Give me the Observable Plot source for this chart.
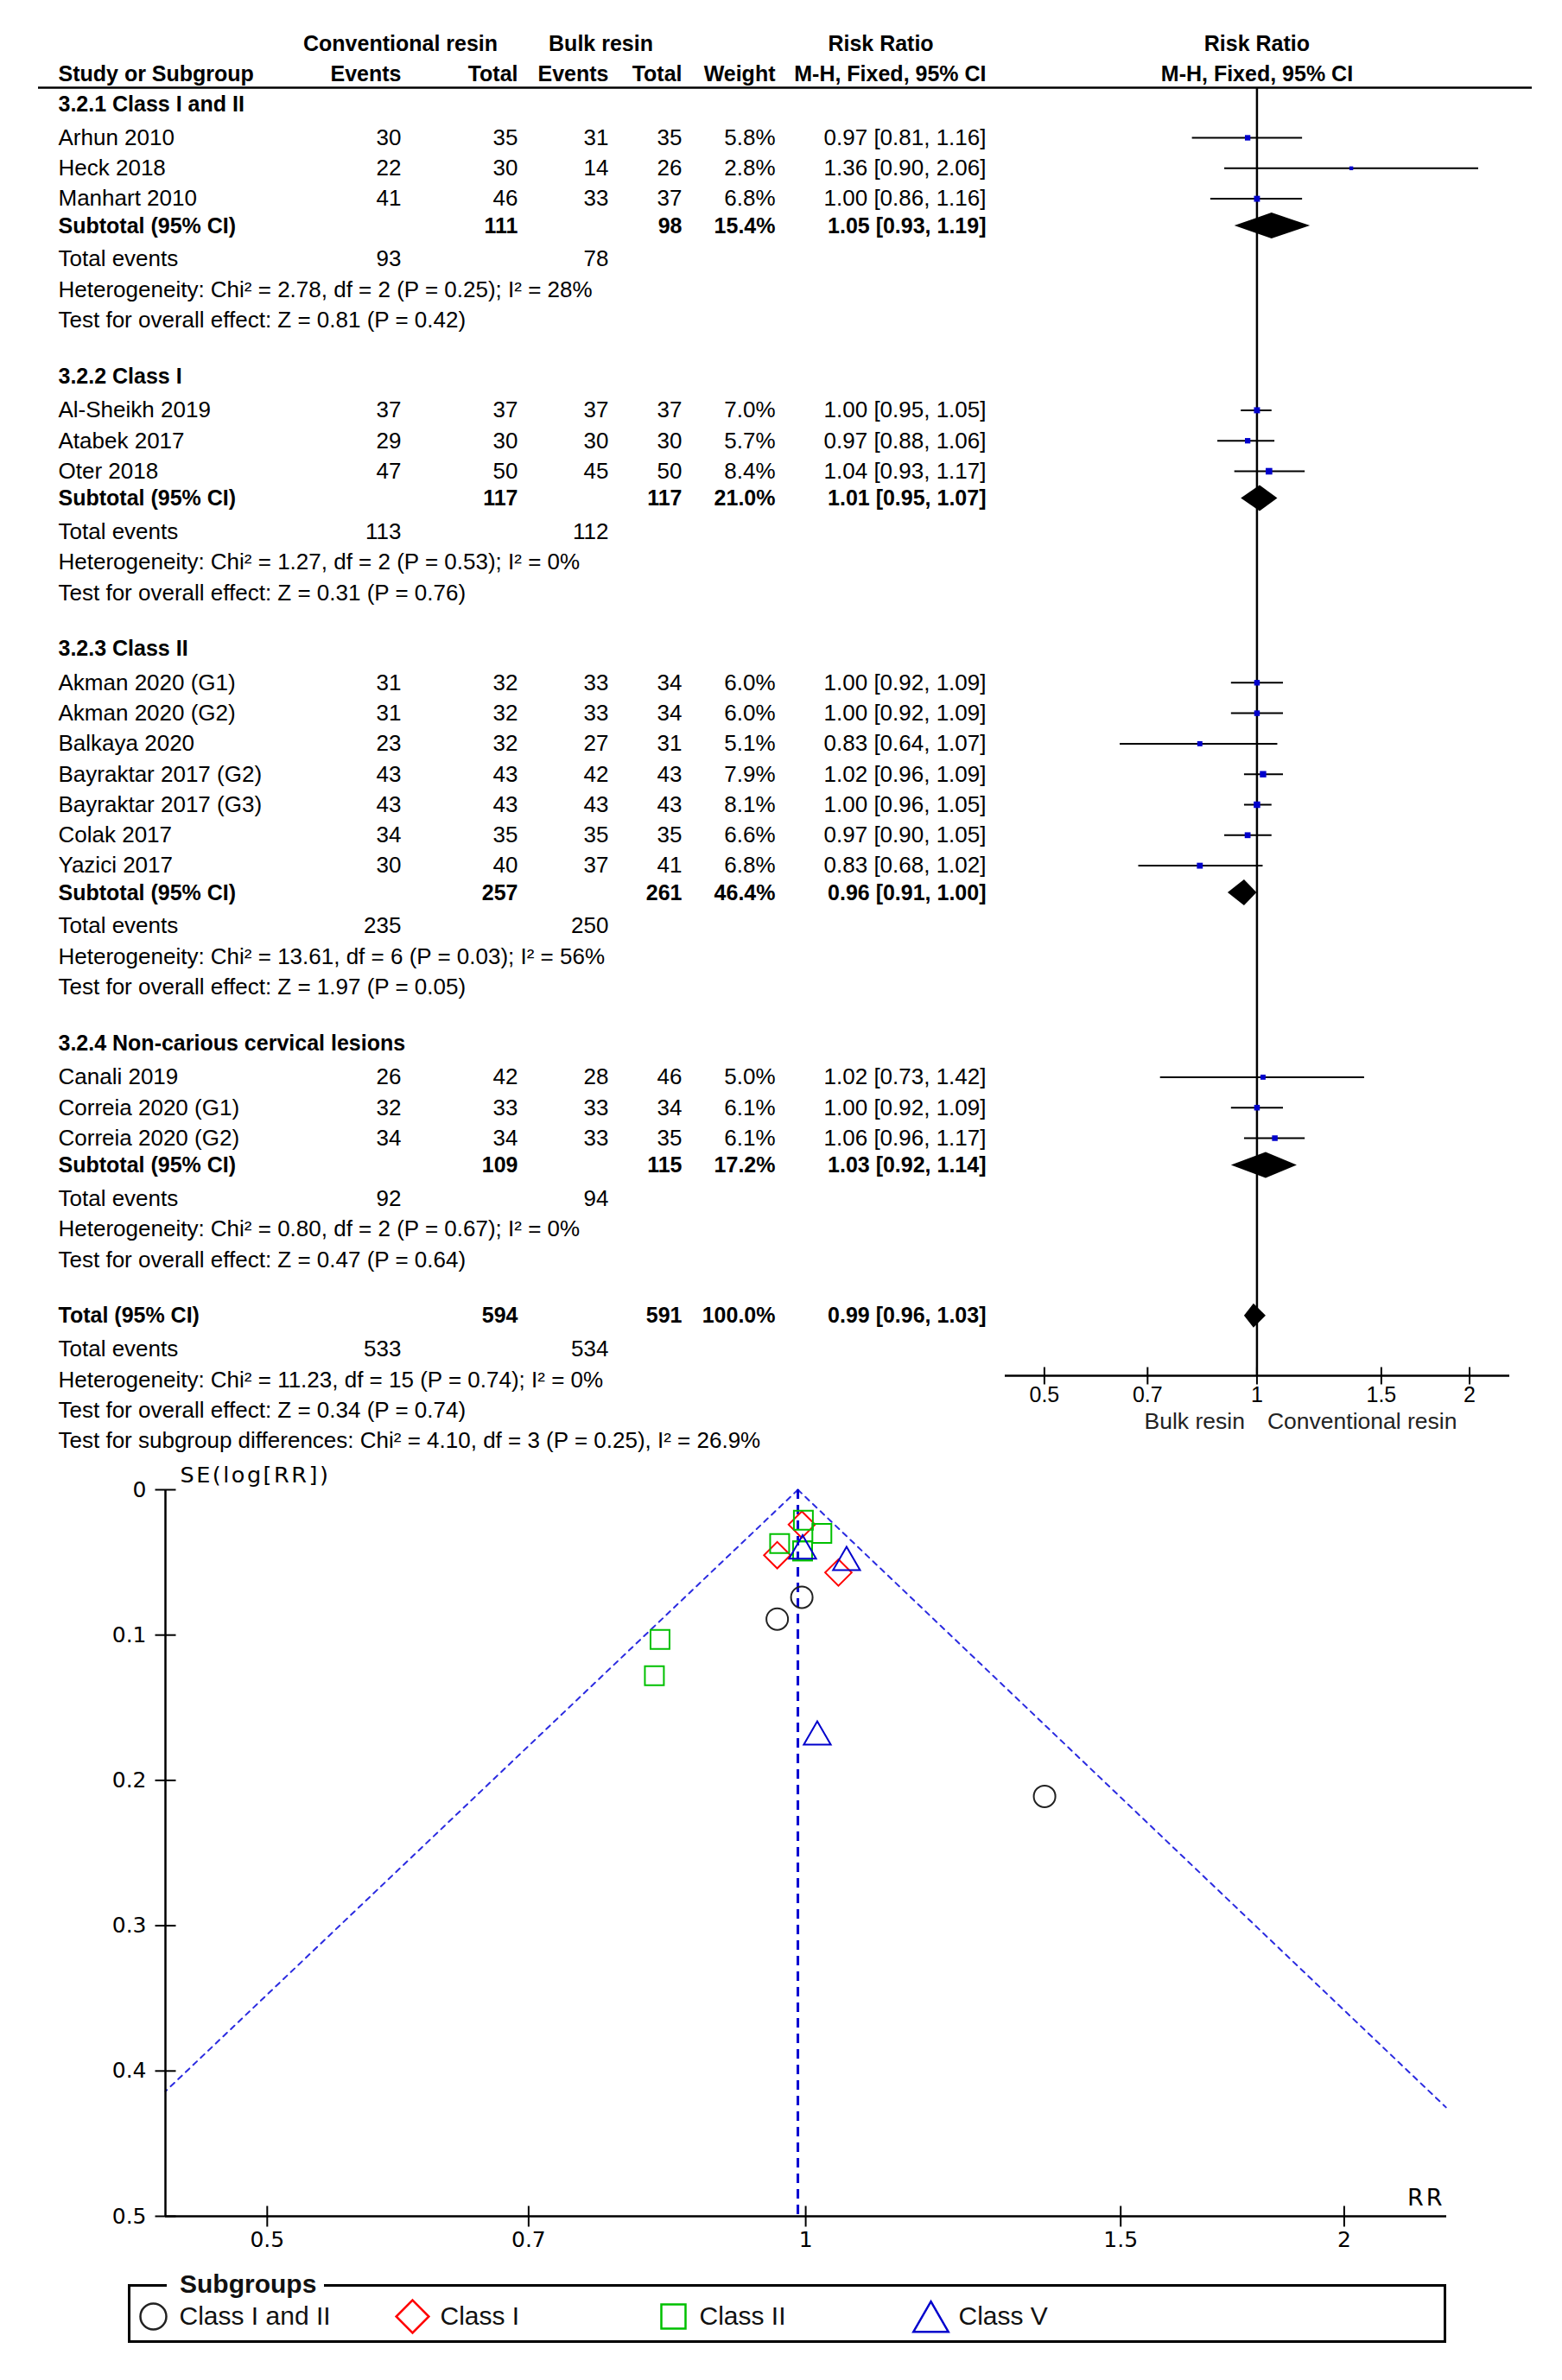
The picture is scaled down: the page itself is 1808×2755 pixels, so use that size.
<!DOCTYPE html>
<html>
<head>
<meta charset="utf-8">
<script src="https://cdn.jsdelivr.net/npm/d3@7"></script>
<script src="https://cdn.jsdelivr.net/npm/@observablehq/plot@0.6"></script>
<style>
html, body { margin: 0; padding: 0; background: #fff; }
#root { position: relative; width: 1808px; height: 2755px; overflow: hidden; background: #fff; }
.layer { position: absolute; left: 0; }
.layer svg { display: block; }
#legendBox { position: absolute; box-sizing: border-box; border: 3px solid #000; }
#legendTitle { position: absolute; background: #fff; font: bold 30px "Liberation Sans", Arial, sans-serif; line-height: 36px; color: #111; padding: 0 9px 0 15px; }
</style>
</head>
<body>
<div id="root"></div>
<script>
// ---------------- DATA ----------------
const groupNames = ["3.2.1 Class I and II", "3.2.2 Class I", "3.2.3 Class II", "3.2.4 Non-carious cervical lesions"];
const studyNames = ["Arhun 2010", "Heck 2018", "Manhart 2010",
  "Al-Sheikh 2019", "Atabek 2017", "Oter 2018",
  "Akman 2020 (G1)", "Akman 2020 (G2)", "Balkaya 2020", "Bayraktar 2017 (G2)", "Bayraktar 2017 (G3)", "Colak 2017", "Yazici 2017",
  "Canali 2019", "Correia 2020 (G1)", "Correia 2020 (G2)"];
const studyGroup = [0,0,0, 1,1,1, 2,2,2,2,2,2,2, 3,3,3];
const convEvents = [30,22,41, 37,29,47, 31,31,23,43,43,34,30, 26,32,34];
const convTotal  = [35,30,46, 37,30,50, 32,32,32,43,43,35,40, 42,33,34];
const bulkEvents = [31,14,33, 37,30,45, 33,33,27,42,43,35,37, 28,33,33];
const bulkTotal  = [35,26,37, 37,30,50, 34,34,31,43,43,35,41, 46,34,35];
const weights    = [5.8,2.8,6.8, 7.0,5.7,8.4, 6.0,6.0,5.1,7.9,8.1,6.6,6.8, 5.0,6.1,6.1];
const riskRatio  = [0.97,1.36,1.00, 1.00,0.97,1.04, 1.00,1.00,0.83,1.02,1.00,0.97,0.83, 1.02,1.00,1.06];
const rrLow      = [0.81,0.90,0.86, 0.95,0.88,0.93, 0.92,0.92,0.64,0.96,0.96,0.90,0.68, 0.73,0.92,0.96];
const rrHigh     = [1.16,2.06,1.16, 1.05,1.06,1.17, 1.09,1.09,1.07,1.09,1.05,1.05,1.02, 1.42,1.09,1.17];

const subConvTotal   = [111,117,257,109];
const subBulkTotal   = [98,117,261,115];
const subWeight      = [15.4,21.0,46.4,17.2];
const subRR          = [1.05,1.01,0.96,1.03];
const subLow         = [0.93,0.95,0.91,0.92];
const subHigh        = [1.19,1.07,1.00,1.14];
const subConvEvents  = [93,113,235,92];
const subBulkEvents  = [78,112,250,94];
const subHeterogeneity = ["Chi² = 2.78, df = 2 (P = 0.25); I² = 28%", "Chi² = 1.27, df = 2 (P = 0.53); I² = 0%",
  "Chi² = 13.61, df = 6 (P = 0.03); I² = 56%", "Chi² = 0.80, df = 2 (P = 0.67); I² = 0%"];
const subEffect = ["Z = 0.81 (P = 0.42)", "Z = 0.31 (P = 0.76)", "Z = 1.97 (P = 0.05)", "Z = 0.47 (P = 0.64)"];

const totalConvTotal = 594, totalBulkTotal = 591, totalWeight = 100.0;
const totalRR = 0.99, totalLow = 0.96, totalHigh = 1.03;
const totalConvEvents = 533, totalBulkEvents = 534;
const totalHeterogeneity = "Chi² = 11.23, df = 15 (P = 0.74); I² = 0%";
const totalEffect = "Z = 0.34 (P = 0.74)";
const subgroupDifferences = "Chi² = 4.10, df = 3 (P = 0.25), I² = 26.9%";

const forestTicks = [0.5, 0.7, 1, 1.5, 2];
const forestDomain = [0.44, 2.28];

const funnelGroups = ["Class I and II", "Class I", "Class II", "Class V"];
const funnelColors = ["#222222", "#ff0000", "#00c000", "#0000cc"];
const funnelSymbols = ["circle", "diamond2", "square", "triangle"];
const funnelGroup = [0,0,0, 1,1,1, 2,2,2,2,2,2,2, 3,3,3];
const funnelRR = [0.964,1.36,0.995, 0.995,0.964,1.043, 0.996,0.996,0.823,1.021,0.997,0.967,0.829, 1.015,0.996,1.054];
const funnelSE = [0.089,0.211,0.074, 0.024,0.045,0.057, 0.042,0.042,0.128,0.030,0.021,0.037,0.103, 0.170,0.042,0.050];
const funnelPooled = 0.99;
const funnelLimitLeft  = [{rr: 0.99, se: 0}, {rr: 0.4386, se: 0.414}];
const funnelLimitRight = [{rr: 0.99, se: 0}, {rr: 2.28, se: 0.425}];
const funnelDomainX = [0.4386, 2.282];
const funnelDomainY = [0, 0.5];
const funnelYTicks = [0, 0.1, 0.2, 0.3, 0.4, 0.5];
const funnelXTicks = [0.5, 0.7, 1, 1.5, 2];

// ---------------- LAYOUT ----------------
const FONT = '"Liberation Sans", Arial, Helvetica, sans-serif';
const DJV = '"DejaVu Sans", Verdana, sans-serif';
const L = {
  W: 1808,
  tableH: 1700,
  hdr1: 50, hdr2: 85, hdrRule: 101, ruleX1: 44, ruleX2: 1773,
  firstGroup: 120, headToStudy: 39, studyStep: 35.3, studyToSub: 31.5, subToEvents: 38.5,
  eventsToHet: 35.5, hetToTest: 35.3, testToNext: 65,
  cols: {name: 67, ce: 464, ct: 599, be: 704, bt: 789, w: 897, ci: 1141},
  hdr1Centers: [463, 695, 1019],
  fsReg: 26, fsBold: 25,
  forestRange: [1163, 1747], forestAxisY: 1592, forestTickLabelY: 1614, forestSideLabelY: 1645,
  diamondHalf: 15,
  funnelTop: 1680, funnelH: 960, funnelLeft: 191, funnelRight: 1674, funnelMT: 44, funnelMB: 75,
  legendBox: {left: 148, top: 2644, width: 1526, height: 68},
  legendTitle: {left: 193, top: 2626},
  legendTop: 2618, legendH: 120, legendY: 63,
  legendSymX: [177, 477, 779, 1077], legendTextX: [207, 509, 809, 1109],
  legendR: [15, 17, 15.8, 15], legendDy: [0, 0, 0, 6],
  funnelR: {circle: 12.5, diamond2: 13.8, square: 12.4, triangle: 11.6}
};

// ---------------- BUILD TABLE ROWS ----------------
const fmt2 = d3.format(".2f");
const ciText = (r, lo, hi) => `${fmt2(r)} [${fmt2(lo)}, ${fmt2(hi)}]`;
const cells = [];
function cell(col, y, text, bold, anchor) {
  cells.push({x: L.cols[col], y, text: String(text), bold: !!bold, anchor: anchor || (col === "name" ? "start" : "end")});
}
// header
["Conventional resin", "Bulk resin", "Risk Ratio"].forEach((t, i) =>
  cells.push({x: L.hdr1Centers[i], y: L.hdr1, text: t, bold: true, anchor: "middle"}));
cell("name", L.hdr2, "Study or Subgroup", true);
cell("ce", L.hdr2, "Events", true);
cell("ct", L.hdr2, "Total", true);
cell("be", L.hdr2, "Events", true);
cell("bt", L.hdr2, "Total", true);
cell("w", L.hdr2, "Weight", true);
cell("ci", L.hdr2, "M-H, Fixed, 95% CI", true);

const forestStudies = [];
const diamondPts = [];
function addDiamond(id, y, est, lo, hi, half) {
  diamondPts.push({id, y: y - half, x1: est, x2: est});
  diamondPts.push({id, y: y, x1: lo, x2: hi});
  diamondPts.push({id, y: y + half, x1: est, x2: est});
}

let y = L.firstGroup;
groupNames.forEach((g, gi) => {
  cell("name", y, g, true);
  y += L.headToStudy;
  let first = true;
  studyNames.forEach((name, i) => {
    if (studyGroup[i] !== gi) return;
    if (!first) y += L.studyStep;
    first = false;
    cell("name", y, name);
    cell("ce", y, convEvents[i]);
    cell("ct", y, convTotal[i]);
    cell("be", y, bulkEvents[i]);
    cell("bt", y, bulkTotal[i]);
    cell("w", y, weights[i].toFixed(1) + "%");
    cell("ci", y, ciText(riskRatio[i], rrLow[i], rrHigh[i]));
    forestStudies.push({y, rr: riskRatio[i], lo: rrLow[i], hi: rrHigh[i], w: weights[i]});
  });
  y += L.studyToSub;
  cell("name", y, "Subtotal (95% CI)", true);
  cell("ct", y, subConvTotal[gi], true);
  cell("bt", y, subBulkTotal[gi], true);
  cell("w", y, subWeight[gi].toFixed(1) + "%", true);
  cell("ci", y, ciText(subRR[gi], subLow[gi], subHigh[gi]), true);
  addDiamond("g" + gi, y, subRR[gi], subLow[gi], subHigh[gi], L.diamondHalf);
  y += L.subToEvents;
  cell("name", y, "Total events");
  cell("ce", y, subConvEvents[gi]);
  cell("be", y, subBulkEvents[gi]);
  y += L.eventsToHet;
  cell("name", y, "Heterogeneity: " + subHeterogeneity[gi]);
  y += L.hetToTest;
  cell("name", y, "Test for overall effect: " + subEffect[gi]);
  y += L.testToNext;
});
cell("name", y, "Total (95% CI)", true);
cell("ct", y, totalConvTotal, true);
cell("bt", y, totalBulkTotal, true);
cell("w", y, totalWeight.toFixed(1) + "%", true);
cell("ci", y, ciText(totalRR, totalLow, totalHigh), true);
addDiamond("total", y, totalRR, totalLow, totalHigh, L.diamondHalf - 1);
y += L.subToEvents;
cell("name", y, "Total events");
cell("ce", y, totalConvEvents);
cell("be", y, totalBulkEvents);
y += L.eventsToHet;
cell("name", y, "Heterogeneity: " + totalHeterogeneity);
y += L.hetToTest;
cell("name", y, "Test for overall effect: " + totalEffect);
y += L.hetToTest;
cell("name", y, "Test for subgroup differences: " + subgroupDifferences);

// ---------------- PLOTS ----------------
const root = document.getElementById("root");
function layer(node, top) {
  const d = document.createElement("div");
  d.className = "layer";
  d.style.top = top + "px";
  d.appendChild(node);
  root.appendChild(d);
  return d;
}
const textMarks = (data) => {
  const out = [];
  for (const anchor of ["start", "middle", "end"]) for (const bold of [false, true]) {
    const sub = data.filter(d => d.anchor === anchor && d.bold === bold);
    if (!sub.length) continue;
    out.push(Plot.text(sub, {x: "x", y: "y", text: "text", textAnchor: anchor,
      fontWeight: bold ? "bold" : "normal", fontSize: bold ? L.fsBold : L.fsReg, fontFamily: FONT, fill: "#000"}));
  }
  return out;
};

// Table
const plotA = Plot.plot({
  width: L.W, height: L.tableH, margin: 0,
  x: {type: "identity", axis: null}, y: {type: "identity", axis: null},
  style: {background: "transparent", fontFamily: FONT},
  marks: [
    Plot.ruleY([L.hdrRule], {x1: L.ruleX1, x2: L.ruleX2, stroke: "#000", strokeWidth: 2.5}),
    ...textMarks(cells)
  ]
});
layer(plotA, 0);

// Forest graphic
const hTick = {draw(ctx, size) { const r = Math.sqrt(size / Math.PI); ctx.moveTo(-r, 0); ctx.lineTo(r, 0); }};
const vTick = {draw(ctx, size) { const r = Math.sqrt(size / Math.PI); ctx.moveTo(0, -r); ctx.lineTo(0, r); }};

const plotB = Plot.plot({
  width: L.W, height: L.tableH, margin: 0,
  x: {type: "log", domain: forestDomain, range: L.forestRange, axis: null},
  y: {type: "identity", axis: null},
  r: {type: "sqrt", domain: [0, 8.4], range: [0, 4.3]},
  style: {background: "transparent", fontFamily: FONT},
  marks: [
    Plot.ruleX([1], {y1: L.hdrRule, y2: L.forestAxisY, stroke: "#000", strokeWidth: 2.5}),
    Plot.ruleY(forestStudies, {y: "y", x1: "lo", x2: "hi", stroke: "#000", strokeWidth: 2}),
    Plot.dot(forestStudies, {x: "rr", y: "y", r: "w", symbol: "square", fill: "#0000cc", stroke: "none"}),
    Plot.areaX(diamondPts, {y: "y", x1: "x1", x2: "x2", z: "id", fill: "#000", curve: "linear"}),
    Plot.ruleY([L.forestAxisY], {x1: forestDomain[0], x2: forestDomain[1], stroke: "#000", strokeWidth: 2.5}),
    Plot.dot(forestTicks, {x: d => d, y: L.forestAxisY, symbol: vTick, r: 10, stroke: "#000", fill: "none", strokeWidth: 2}),
    Plot.text(forestTicks, {x: d => d, y: L.forestTickLabelY, text: d => String(d), fontSize: 25, fontFamily: FONT, fill: "#000"}),
    Plot.text(["Bulk resin"], {x: 1, y: L.forestSideLabelY, text: d => d, dx: -14, textAnchor: "end", fontSize: 26.5, fontFamily: FONT, fill: "#222"}),
    Plot.text(["Conventional resin"], {x: 1, y: L.forestSideLabelY, text: d => d, dx: 12, textAnchor: "start", fontSize: 26.5, fontFamily: FONT, fill: "#222"}),
    Plot.text(["Risk Ratio"], {x: 1, y: L.hdr1, text: d => d, fontWeight: "bold", fontSize: L.fsBold, fontFamily: FONT, fill: "#000"}),
    Plot.text(["M-H, Fixed, 95% CI"], {x: 1, y: L.hdr2, text: d => d, fontWeight: "bold", fontSize: L.fsBold, fontFamily: FONT, fill: "#000"})
  ]
});
layer(plotB, 0);

// Funnel plot
const funnelPts = funnelRR.map((rr, i) => ({rr, se: funnelSE[i], g: funnelGroup[i]}));
const plotC = Plot.plot({
  width: L.W, height: L.funnelH,
  marginLeft: L.funnelLeft, marginRight: L.W - L.funnelRight, marginTop: L.funnelMT, marginBottom: L.funnelMB,
  x: {type: "log", domain: funnelDomainX, axis: null},
  y: {domain: funnelDomainY, reverse: true, axis: null},
  style: {background: "transparent", fontFamily: DJV},
  marks: [
    Plot.line(funnelLimitLeft, {x: "rr", y: "se", stroke: "#2b2be0", strokeWidth: 2, strokeDasharray: "6,6"}),
    Plot.line(funnelLimitRight, {x: "rr", y: "se", stroke: "#2b2be0", strokeWidth: 2, strokeDasharray: "6,6"}),
    Plot.ruleX([funnelPooled], {y1: funnelDomainY[0], y2: funnelDomainY[1], stroke: "#0000d0", strokeWidth: 3, strokeDasharray: "11,7"}),
    Plot.ruleX([funnelDomainX[0]], {y1: funnelDomainY[0], y2: funnelDomainY[1], stroke: "#000", strokeWidth: 2.5}),
    Plot.ruleY([funnelDomainY[1]], {x1: funnelDomainX[0], x2: funnelDomainX[1], stroke: "#000", strokeWidth: 2.5}),
    Plot.dot(funnelYTicks, {x: funnelDomainX[0], y: d => d, symbol: hTick, r: 12, stroke: "#000", fill: "none", strokeWidth: 2}),
    Plot.dot(funnelXTicks, {x: d => d, y: funnelDomainY[1], symbol: vTick, r: 12, stroke: "#000", fill: "none", strokeWidth: 2}),
    Plot.text(funnelYTicks, {x: funnelDomainX[0], y: d => d, text: d => String(d), dx: -22, textAnchor: "end", fontSize: 25, fontFamily: DJV, fill: "#000"}),
    Plot.text(funnelXTicks, {x: d => d, y: funnelDomainY[1], text: d => String(d), dy: 27, fontSize: 25, fontFamily: DJV, fill: "#000"}),
    Plot.text(["SE(log[RR])"], {x: funnelDomainX[0], y: funnelDomainY[0], text: d => d, dx: 17, dy: -17, textAnchor: "start", fontSize: 25.5, fontFamily: DJV, fill: "#000"}),
    Plot.text(["RR"], {x: funnelDomainX[1], y: funnelDomainY[1], text: d => d, dx: -2, dy: -21, textAnchor: "end", fontSize: 27, fontFamily: DJV, fill: "#000"}),
    ...funnelGroups.map((g, gi) => Plot.dot(funnelPts.filter(p => p.g === gi), {
      x: "rr", y: "se", symbol: funnelSymbols[gi], r: L.funnelR[funnelSymbols[gi]],
      stroke: funnelColors[gi], fill: "none", strokeWidth: 2
    }))
  ]
});
d3.select(plotC).selectAll("text").filter(function () { return this.textContent === "SE(log[RR])"; }).attr("letter-spacing", "2.5px");
d3.select(plotC).selectAll("text").filter(function () { return this.textContent === "RR"; }).attr("letter-spacing", "3px");
layer(plotC, L.funnelTop);

// Legend box (below the funnel)
const box = document.createElement("div");
box.id = "legendBox";
Object.assign(box.style, {left: L.legendBox.left + "px", top: L.legendBox.top + "px", width: L.legendBox.width + "px", height: L.legendBox.height + "px"});
root.appendChild(box);
const title = document.createElement("div");
title.id = "legendTitle";
title.textContent = "Subgroups";
Object.assign(title.style, {left: L.legendTitle.left + "px", top: L.legendTitle.top + "px"});
root.appendChild(title);

const legendItems = funnelGroups.map((g, i) => ({g, i}));
const plotD = Plot.plot({
  width: L.W, height: L.legendH, margin: 0,
  x: {type: "identity", axis: null}, y: {type: "identity", axis: null},
  style: {background: "transparent", fontFamily: FONT},
  marks: [
    ...legendItems.map(({g, i}) => Plot.dot([g], {
      x: L.legendSymX[i], y: L.legendY + L.legendDy[i], symbol: funnelSymbols[i], r: L.legendR[i],
      stroke: funnelColors[i], fill: "none", strokeWidth: 2.5
    })),
    Plot.text(legendItems, {x: d => L.legendTextX[d.i], y: L.legendY, text: "g", textAnchor: "start", fontSize: 30, fontFamily: FONT, fill: "#111"})
  ]
});
layer(plotD, L.legendTop);
</script>
</body>
</html>
